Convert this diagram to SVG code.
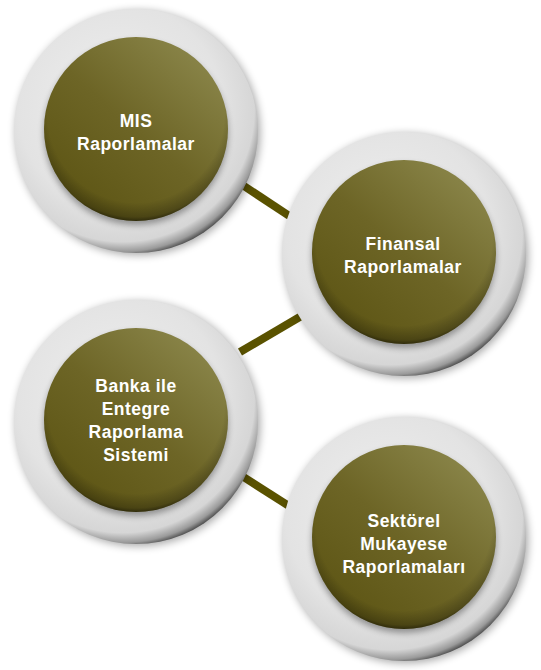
<svg xmlns="http://www.w3.org/2000/svg" width="541" height="670" viewBox="0 0 541 670">
<style>
.lbl{font-family:"Liberation Sans",Arial,sans-serif;font-weight:bold;font-size:17.5px;fill:#ffffff;text-anchor:middle;letter-spacing:0.5px}
.conn{stroke:#5a5200;stroke-width:8;fill:none}
</style>
<defs>
<filter id="blurOuter" x="-20%" y="-20%" width="140%" height="140%"><feGaussianBlur stdDeviation="4"/></filter>
<filter id="blurInner" x="-20%" y="-20%" width="140%" height="140%"><feGaussianBlur stdDeviation="3"/></filter>
<radialGradient id="ring" cx="0.45" cy="0.42" r="0.6" fx="0.4" fy="0.36">
<stop offset="0" stop-color="#eeeeee"/>
<stop offset="0.7" stop-color="#e3e3e3"/>
<stop offset="0.9" stop-color="#d6d6d6"/>
<stop offset="0.96" stop-color="#9a9a9a"/>
<stop offset="1" stop-color="#3a3a3a"/>
</radialGradient>
<linearGradient id="olive" x1="0.85" y1="0.15" x2="0.2" y2="0.9">
<stop offset="0" stop-color="#878246"/>
<stop offset="0.5" stop-color="#6d6526"/>
<stop offset="1" stop-color="#5e5615"/>
</linearGradient>
<radialGradient id="rim" cx="0.5" cy="0.42" r="0.6">
<stop offset="0" stop-color="#000" stop-opacity="0"/>
<stop offset="0.8" stop-color="#000" stop-opacity="0"/>
<stop offset="0.93" stop-color="#000" stop-opacity="0.25"/>
<stop offset="1" stop-color="#000" stop-opacity="0.75"/>
</radialGradient>
<g id="disc">
<circle cx="2" cy="4" r="122" fill="#000" opacity="0.35" filter="url(#blurOuter)"/>
<circle cx="0" cy="2" r="122" fill="url(#ring)"/>
<circle cx="0" cy="4" r="92" fill="#000" opacity="0.35" filter="url(#blurInner)"/>
<circle cx="0" cy="0" r="92" fill="url(#olive)"/>
<circle cx="0" cy="0" r="92" fill="url(#rim)"/>
</g>
</defs>
<g id="connectors">
<line class="conn" x1="244" y1="186" x2="300" y2="223"/>
<line class="conn" x1="315" y1="308" x2="240" y2="352"/>
<line class="conn" x1="242" y1="476" x2="300" y2="513"/>
</g>
<g id="node-mis">
<use href="#disc" x="136" y="129"/>
<text class="lbl" x="136" y="127">MIS</text>
<text class="lbl" x="136" y="150">Raporlamalar</text>
</g>
<g id="node-finansal">
<use href="#disc" x="404" y="252"/>
<text class="lbl" x="403" y="250">Finansal</text>
<text class="lbl" x="403" y="273">Raporlamalar</text>
</g>
<g id="node-banka">
<use href="#disc" x="136" y="420"/>
<text class="lbl" x="136" y="392">Banka ile</text>
<text class="lbl" x="136" y="415">Entegre</text>
<text class="lbl" x="136" y="438">Raporlama</text>
<text class="lbl" x="136" y="461">Sistemi</text>
</g>
<g id="node-sektorel">
<use href="#disc" x="404" y="537"/>
<text class="lbl" x="404" y="527">Sektörel</text>
<text class="lbl" x="404" y="550">Mukayese</text>
<text class="lbl" x="404" y="573">Raporlamaları</text>
</g>
</svg>
